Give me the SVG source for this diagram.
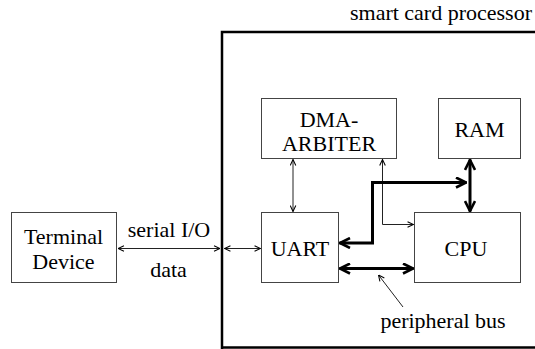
<svg xmlns="http://www.w3.org/2000/svg" width="535" height="349" viewBox="0 0 535 349" font-family="'Liberation Serif', 'Times New Roman', serif">
<style>
text{font-family:"Liberation Serif","Times New Roman",serif;font-size:22px;fill:#000;text-anchor:middle}
.box{fill:#fff;stroke:#444;stroke-width:1}
.thin{fill:none;stroke:#222;stroke-width:1}
.thick{fill:none;stroke:#000;stroke-width:3}
</style>
<defs>
<marker id="ah" viewBox="0 0 10 10" refX="9.5" refY="5" markerWidth="7" markerHeight="7" markerUnits="userSpaceOnUse" orient="auto-start-reverse">
<path d="M1,1 L9.5,5 L1,9" fill="none" stroke="#000" stroke-width="1.5"/>
</marker>
<marker id="AH" viewBox="0 0 12 12" refX="11.5" refY="6" markerWidth="12" markerHeight="12" markerUnits="userSpaceOnUse" orient="auto-start-reverse">
<path d="M1,1 L11,6 L1,11" fill="none" stroke="#000" stroke-width="2.6"/>
</marker>
</defs>
<g id="processor">
<path d="M537,32 H222 V349" fill="none" stroke="#000" stroke-width="2.5"/>
<line x1="222" y1="347.5" x2="537" y2="347.5" stroke="#000" stroke-width="2.5"/>
<text x="532" y="20" style="text-anchor:end">smart card processor</text>
</g>
<g id="terminal">
<rect class="box" x="11.5" y="212.5" width="105" height="70"/>
<text x="63.5" y="244">Terminal</text>
<text x="63.5" y="268.5">Device</text>
</g>
<g id="dma">
<rect class="box" x="261.5" y="98.5" width="135" height="60"/>
<text x="329" y="126.5">DMA-</text>
<text x="329" y="151">ARBITER</text>
</g>
<g id="ram">
<rect class="box" x="438.5" y="98.5" width="82" height="60"/>
<text x="479.5" y="136.5">RAM</text>
</g>
<g id="uart">
<rect class="box" x="261.5" y="212.5" width="77" height="70"/>
<text x="300" y="256">UART</text>
</g>
<g id="cpu">
<rect class="box" x="414.5" y="212.5" width="106" height="70"/>
<text x="466" y="256">CPU</text>
</g>
<g id="labels">
<text x="169" y="236.5">serial I/O</text>
<text x="168.5" y="276.5">data</text>
<text x="443" y="328">peripheral bus</text>
</g>
<g id="connectors">
<line class="thin" x1="118" y1="248.5" x2="220" y2="248.5" marker-start="url(#ah)" marker-end="url(#ah)"/>
<line class="thin" x1="224.5" y1="248.5" x2="260.5" y2="248.5" marker-start="url(#ah)" marker-end="url(#ah)"/>
<line class="thin" x1="293" y1="159.5" x2="293" y2="211.5" marker-start="url(#ah)" marker-end="url(#ah)"/>
<path class="thin" d="M382.5,159.5 V224.5 H413.5" marker-start="url(#ah)" marker-end="url(#ah)"/>
<path class="thick" d="M466.5,182.5 H372.5 V243 H339.5" marker-start="url(#AH)" marker-end="url(#AH)"/>
<line class="thick" x1="470" y1="159.5" x2="470" y2="211.5" marker-start="url(#AH)" marker-end="url(#AH)"/>
<line class="thick" x1="339.5" y1="268.5" x2="413.5" y2="268.5" marker-start="url(#AH)" marker-end="url(#AH)"/>
<line class="thin" x1="403" y1="307" x2="378.5" y2="275" marker-end="url(#ah)"/>
</g>
</svg>
